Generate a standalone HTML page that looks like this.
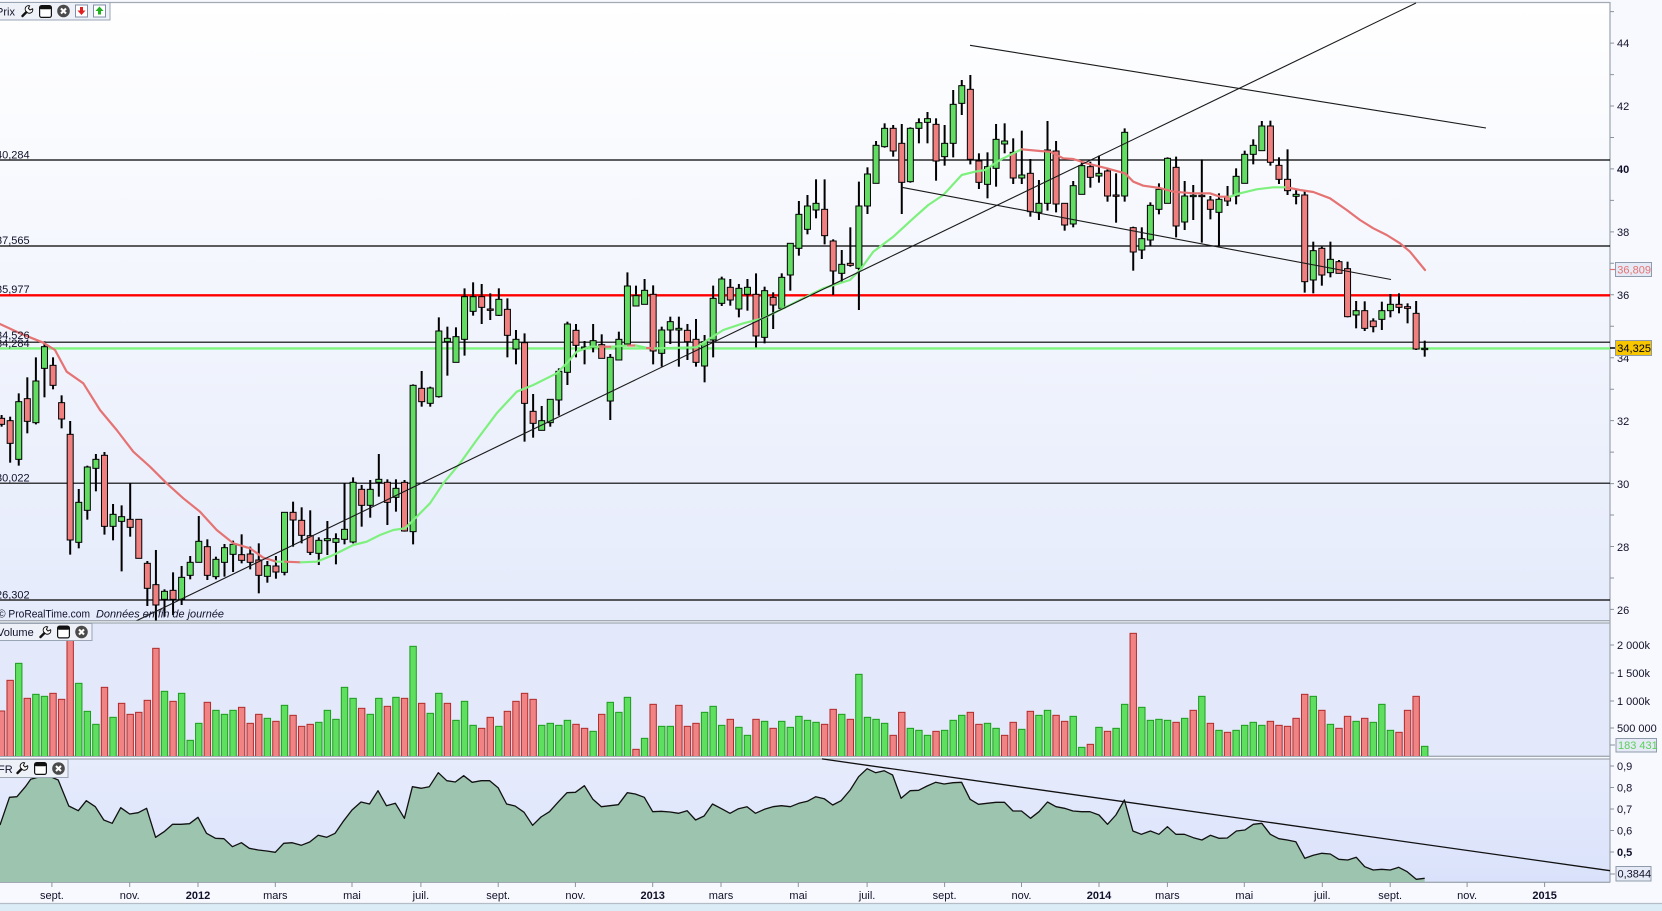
<!DOCTYPE html>
<html><head><meta charset="utf-8"><title>Chart</title>
<style>
html,body{margin:0;padding:0;background:#f8f9fe;width:1662px;height:911px;overflow:hidden}
svg{display:block}
text{font-family:"Liberation Sans",Arial,sans-serif;font-size:11px;fill:#10102a}
</style></head><body>
<svg xmlns="http://www.w3.org/2000/svg" width="1662" height="911" viewBox="0 0 1662 911">
<defs>
 <linearGradient id="gp" x1="0" y1="0" x2="0" y2="1"><stop offset="0" stop-color="#ffffff"/><stop offset="1" stop-color="#e5ebfb"/></linearGradient>
 <linearGradient id="gi" x1="0" y1="0" x2="0" y2="1"><stop offset="0" stop-color="#e7ecfc"/><stop offset="1" stop-color="#dae2fb"/></linearGradient>
 <clipPath id="cp"><rect x="0" y="2.5" width="1610" height="618"/></clipPath>
 <clipPath id="cv"><rect x="0" y="623" width="1610" height="133"/></clipPath>
 <clipPath id="ci"><rect x="0" y="759" width="1610" height="123"/></clipPath>
 <g id="wr"><path d="M1.5 11 L6.5 6" stroke="#111" stroke-width="2.4" stroke-linecap="round" fill="none"/><path d="M5.6 6.8 A3.4 3.4 0 0 1 8.6 0.8 L7.4 3.4 L9 5 L11.6 3.8 A3.4 3.4 0 0 1 5.6 6.8Z" fill="#fff" stroke="#111" stroke-width="1"/></g>
 <g id="wn"><rect x="0.6" y="0.6" width="11.8" height="11.8" rx="2" fill="#fff" stroke="#111" stroke-width="1.2"/><rect x="0.6" y="0.6" width="11.8" height="3.6" rx="1.5" fill="#111"/></g>
 <g id="cl"><circle cx="6.5" cy="6.5" r="6.3" fill="#4a4a4a"/><path d="M4 4L9 9M9 4L4 9" stroke="#fff" stroke-width="2.1"/></g>
 <g id="dr"><rect x="0.5" y="0.5" width="12" height="12" fill="#fff" stroke="#8090a8"/><path d="M5 2.5h3v3.5h2.5l-4 4.5-4-4.5H5z" fill="#e02020"/></g>
 <g id="dg"><rect x="0.5" y="0.5" width="12" height="12" fill="#fff" stroke="#8090a8"/><path d="M6.5 2l4 4.5H8V10H5V6.5H2.5z" fill="#20b020"/></g>
</defs>

<rect width="1662" height="911" fill="#f8f9fe"/>
<rect x="0" y="2.5" width="1610" height="618" fill="url(#gp)"/>
<rect x="0" y="623" width="1610" height="133" fill="#e3e9fb"/>
<rect x="0" y="759" width="1610" height="123" fill="url(#gi)"/>
<rect x="0" y="903" width="1662" height="8" fill="#dcecf7"/>
<line x1="0" y1="903.5" x2="1662" y2="903.5" stroke="#b4bcc6" stroke-width="1.3"/>

<!-- panel borders -->
<g stroke="#a2aab4" stroke-width="1.3" fill="none">
 <line x1="0" y1="2.5" x2="1610" y2="2.5"/>
 <line x1="0" y1="620.7" x2="1610" y2="620.7"/>
 <line x1="0" y1="623" x2="1610" y2="623"/>
 <line x1="0" y1="756.3" x2="1610" y2="756.3"/>
 <line x1="0" y1="759" x2="1610" y2="759"/>
 <line x1="0" y1="882.3" x2="1610" y2="882.3"/>
 <line x1="1610" y1="2" x2="1610" y2="882.5"/>
</g>

<!-- horizontal price lines -->
<g clip-path="url(#cp)">
 <line x1="0" x2="1610" y1="160" y2="160" stroke="#000" stroke-width="1.2"/>
 <line x1="0" x2="1610" y1="246" y2="246" stroke="#000" stroke-width="1.2"/>
 <line x1="0" x2="1610" y1="342.2" y2="342.2" stroke="#000" stroke-width="1.2"/>
 <line x1="0" x2="1610" y1="483.2" y2="483.2" stroke="#000" stroke-width="1.2"/>
 <line x1="0" x2="1610" y1="600" y2="600" stroke="#000" stroke-width="1.2"/>
 <line x1="0" x2="1610" y1="295.3" y2="295.3" stroke="#ff0000" stroke-width="2.4"/>
 <line x1="0" x2="1610" y1="348.4" y2="348.4" stroke="#7ef57e" stroke-width="2.4"/>
</g>

<g id="cand" clip-path="url(#cp)"></g>
<g id="ma" clip-path="url(#cp)"></g>
<g clip-path="url(#cp)" stroke="#1a1a1a" stroke-width="1.1" fill="none">
 <line x1="136" y1="621" x2="1416" y2="3"/>
 <line x1="970" y1="45.3" x2="1486" y2="128"/>
 <line x1="901.7" y1="187.3" x2="1391" y2="279.5"/>
</g>

<g id="vol" clip-path="url(#cv)"></g>
<g id="ind" clip-path="url(#ci)"></g>
<line x1="822" y1="758.9" x2="1610" y2="870.7" stroke="#111" stroke-width="1.3"/>

<!-- left level labels -->
<g fill="#1a1a1a">
 <text x="-4" y="158.5">40,284</text>
 <text x="-4" y="244">37,565</text>
 <text x="-4" y="293">35,977</text>
 <text x="-4" y="339">34,526</text>
 <text x="-4" y="347">34,284</text>
 <text x="-4" y="481.5">30,022</text>
 <text x="-4" y="598.5">26,302</text>
</g>
<text x="-2" y="617.5" font-size="12" textLength="92" lengthAdjust="spacingAndGlyphs">© ProRealTime.com</text>
<text x="96" y="617.5" font-size="12" font-style="italic" textLength="128" lengthAdjust="spacingAndGlyphs">Données en fin de journée</text>

<!-- header boxes -->
<rect x="-1" y="2.5" width="111" height="17.5" fill="#eef1f8" stroke="#9aa5b3"/>
<text x="-4" y="15.5" font-size="12">Prix</text>
<use href="#wr" x="21" y="5"/>
<use href="#wn" x="39" y="5"/>
<use href="#cl" x="57" y="4.5"/>
<use href="#dr" x="75" y="4.5"/>
<use href="#dg" x="93" y="4.5"/>

<rect x="-1" y="623.5" width="93" height="17" fill="#eef1f8" stroke="#9aa5b3"/>
<text x="-3" y="636" font-size="12">Volume</text>
<use href="#wr" x="39" y="626"/>
<use href="#wn" x="57" y="625.5"/>
<use href="#cl" x="75" y="625.5"/>

<rect x="-1" y="759.5" width="69" height="18" fill="#eef1f8" stroke="#9aa5b3"/>
<text x="-2" y="773" font-size="12">FR</text>
<use href="#wr" x="16" y="762"/>
<use href="#wn" x="34" y="762"/>
<use href="#cl" x="52" y="762"/>

<!-- right axis ticks -->
<path stroke="#8a939e" stroke-width="1" fill="none" d="M1610 11.6h4M1610 43.1h4M1610 74.6h4M1610 106h4M1610 137.5h4M1610 168.9h4M1610 200.4h4M1610 231.9h4M1610 263.3h4M1610 294.8h4M1610 326.3h4M1610 357.7h4M1610 389.2h4M1610 420.6h4M1610 452.1h4M1610 483.6h4M1610 515h4M1610 546.5h4M1610 578h4M1610 609.4h4M1610 645h4M1610 673h4M1610 701h4M1610 728h4M1610 745h5M1610 766h4M1610 787.5h4M1610 809h4M1610 830.5h4M1610 852h4M1610 874h5"/>
<line x1="1610" y1="269.5" x2="1616" y2="269.5" stroke="#e07070" stroke-width="1.2"/>
<line x1="1610" y1="348" x2="1616" y2="348" stroke="#000" stroke-width="1.5"/>

<text x="1617" y="47">44</text>
<text x="1617" y="110">42</text>
<text x="1617" y="173" font-weight="bold">40</text>
<text x="1617" y="236">38</text>
<text x="1617" y="299">36</text>
<text x="1617" y="362">34</text>
<text x="1617" y="425">32</text>
<text x="1617" y="488">30</text>
<text x="1617" y="551">28</text>
<text x="1617" y="614">26</text>

<rect x="1615.5" y="262.5" width="36" height="14" fill="#e6eaf6" stroke="#8e9bab"/>
<text x="1617.3" y="273.7" fill="#e57272" style="fill:#e57272">36,809</text>
<rect x="1615.5" y="340.5" width="36" height="15" fill="#f7c600" stroke="#8e9bab"/>
<text x="1617.3" y="352" style="fill:#000">34,325</text>

<text x="1617" y="649">2 000k</text>
<text x="1617" y="677">1 500k</text>
<text x="1617" y="705">1 000k</text>
<text x="1617" y="732">500 000</text>
<rect x="1616" y="738.5" width="40.5" height="13.5" fill="#e6eaf6" stroke="#8e9bab"/>
<text x="1618" y="749" style="fill:#5ccf5c">183 431</text>

<text x="1617" y="770">0,9</text>
<text x="1617" y="791.5">0,8</text>
<text x="1617" y="813">0,7</text>
<text x="1617" y="834.5">0,6</text>
<text x="1617" y="856" font-weight="bold" font-size="12">0,5</text>
<rect x="1616" y="866.5" width="35" height="14.5" fill="#e6eaf6" stroke="#8e9bab"/>
<text x="1617.5" y="877.5">0,3844</text>

<!-- date axis -->
<path stroke="#8a939e" stroke-width="1" fill="none" d="M51.9 882v5M129.7 882v5M198 882v5M275.3 882v5M352 882v5M420.9 882v5M498.2 882v5M575.4 882v5M652.7 882v5M721 882v5M798.3 882v5M867.1 882v5M944.6 882v5M1021.5 882v5M1099 882v5M1167.4 882v5M1244.3 882v5M1322.3 882v5M1390.2 882v5M1467.1 882v5M1544.6 882v5"/>
<g text-anchor="middle">
 <text x="51.9" y="899">sept.</text>
 <text x="129.7" y="899">nov.</text>
 <text x="198" y="899" font-weight="bold" font-size="12">2012</text>
 <text x="275.3" y="899">mars</text>
 <text x="352" y="899">mai</text>
 <text x="420.9" y="899">juil.</text>
 <text x="498.2" y="899">sept.</text>
 <text x="575.4" y="899">nov.</text>
 <text x="652.7" y="899" font-weight="bold" font-size="12">2013</text>
 <text x="721" y="899">mars</text>
 <text x="798.3" y="899">mai</text>
 <text x="867.1" y="899">juil.</text>
 <text x="944.6" y="899">sept.</text>
 <text x="1021.5" y="899">nov.</text>
 <text x="1099" y="899" font-weight="bold" font-size="12">2014</text>
 <text x="1167.4" y="899">mars</text>
 <text x="1244.3" y="899">mai</text>
 <text x="1322.3" y="899">juil.</text>
 <text x="1390.2" y="899">sept.</text>
 <text x="1467.1" y="899">nov.</text>
 <text x="1544.6" y="899" font-weight="bold" font-size="12">2015</text>
</g>
</svg>

<script>
(function(){
var NS="http://www.w3.org/2000/svg";
function el(tag,a,p){var e=document.createElementNS(NS,tag);for(var k in a)e.setAttribute(k,a[k]);p.appendChild(e);return e;}
var S=8.573,X0=1.6;
function bx(i){return X0+(i-1)*S;}
var GC="#62dc62",RC="#f08080";
var A=[[0,345,355,373,380],[0,350,362,430,488],[1,280,305,478,497],[0,232,296,364,400],[1,172,243,368,373],[1,124,140,205,292],[0,172,196,256,268],[0,286,308,357,385],[0,363,403,720,764],[1,567,607,727,745],[1,497,501,631,659],[1,462,478,505,574],[0,456,466,679,704],[1,612,643,679,721],[1,616,650,664,814],[0,550,658,682,710],[0,658,658,775,775],[0,783,790,865,918],[0,750,854,915,965],[1,868,874,898,950],[0,817,871,898,945],[1,798,832,898,915],[1,768,787,826,838],[1,648,724,787,787],[0,718,740,826,840],[1,770,778,830,838],[1,732,743,787,830],[1,722,733,763,816],[0,703,764,781,790],[0,740,762,787,808],[0,730,780,826,880],[1,783,797,829,848],[0,768,798,816,836],[1,637,637,817,826]];
var B=[[0,755,787,810,890],[0,772,811,856,880],[0,781,857,907,915],[1,862,871,910,945],[1,813,866,872,915],[1,850,866,877,943],[1,700,838,868,883],[1,682,697,876,880],[0,705,718,766,830],[1,690,718,766,803],[1,612,688,697,740],[0,688,697,757,825],[1,688,715,742,785],[0,690,697,843,845],[1,403,406,845,883],[0,363,415,455,470],[1,410,414,460,470],[1,202,243,440,443],[1,230,265,275,377],[1,232,260,337,337],[1,115,140,268,317],[1,97,140,184,197],[0,102,140,172,222],[0,130,177,181,210],[1,115,148,196,198],[0,145,178,256,322],[1,240,268,297,343],[0,250,278,460,575],[0,432,484,520,563],[1,468,512,541,541],[1,448,448,518,530],[1,355,364,450,497],[1,215,222,367,405],[0,222,241,286,322]];
var C=[[1,603,621,625,673],[1,552,602,622,637],[0,583,614,655,655],[1,642,652,783,840],[1,575,598,660,660],[1,397,438,612,612],[1,437,467,498,498],[1,417,451,493,493],[0,436,463,633,673],[1,560,570,640,680],[1,530,545,570,612],[1,530,565,570,680],[0,552,571,605,660],[0,537,598,667,680],[1,585,605,678,727],[1,437,475,600,652],[1,410,417,490,498],[0,417,442,480,497],[1,432,445,507,532],[1,417,442,463,512],[0,400,463,588,622],[1,440,452,592,610],[0,457,472,495,567],[1,400,412,505,505],[1,310,310,405,452],[1,183,223,325,347],[1,165,198,268,283],[1,118,190,210,235],[0,118,208,287,313],[0,298,303,393,465],[1,330,373,400,425],[0,262,370,376,380],[1,125,198,385,510],[1,82,102,198,222]];
var D=[[1,303,316,430,430],[1,250,265,320,323],[0,255,265,333,350],[0,252,310,427,522],[1,262,265,425,428],[1,235,248,265,310],[1,216,236,247,310],[0,235,253,363,422],[1,255,310,350,377],[1,150,193,310,352],[1,120,137,190,225],[0,105,148,358,373],[0,340,363,427,447],[1,337,380,433,475],[1,252,298,385,440],[1,250,303,312,340],[0,295,337,414,432],[1,272,405,414,432],[0,357,400,515,530],[1,420,490,517,540],[1,243,330,490,512],[0,303,333,492,517],[0,490,490,555,572],[1,423,437,552,562],[1,367,377,463,463],[0,365,380,412,443],[1,347,400,408,428],[0,383,393,468,485],[0,400,465,468,548],[1,265,277,468,485],[0,560,563,636,692],[1,562,596,630,657],[1,487,496,600,617]];
var E=[[1,250,268,328,343],[1,172,175,310,310],[0,170,202,378,412],[1,243,288,366,390],[1,255,286,289,360],[0,178,286,289,428],[0,288,300,328,358],[1,280,298,337,437],[0,258,291,303,318],[1,205,229,288,313],[1,152,163,250,250],[1,118,136,163,193],[1,63,78,152,152],[0,62,78,187,197],[0,172,196,238,252],[0,148,238,272,285],[1,270,283,289,313],[0,270,285,545,578],[1,425,452,540,580],[0,440,445,525,557],[1,425,478,518,532],[0,480,485,520,520],[0,485,506,650,652],[1,603,632,645,685],[0,604,632,685,693],[0,655,663,680,697],[1,605,632,658,690],[1,582,613,632,652],[0,580,613,622,640],[0,610,620,625,670],[0,603,640,747,750],[1,722,745,747,770]];
var chunks=[[300,1,A],[250,35,B],[140,69,C],[40,103,D],[100,136,E]];
var gc=document.getElementById("cand");
chunks.forEach(function(ch){var oy=ch[0],st=ch[1];ch[2].forEach(function(d,k){
 var i=st+k,x=bx(i);
 var h=oy+d[1]/3,t=oy+d[2]/3,b=oy+d[3]/3,l=oy+d[4]/3;
 el("line",{x1:x,x2:x,y1:h,y2:l,stroke:"#000","stroke-width":2},gc);
 var bh=Math.max(b-t,1.3);
 el("rect",{x:(x-3).toFixed(2),y:t.toFixed(2),width:6,height:bh.toFixed(2),fill:d[0]?GC:RC,stroke:"#000","stroke-width":1},gc);
});});

/* volume */
var vc="rrgrggrrrg"+"ggrgrrrrrg"+"rgggrgggrr"+"rgrgrrrggg"+"ggrggrgrgr"+"ggrgggrrgr"+"rrrggggrrg"+"rgggrgrggr"+"rrgggrggrg"+"rgggggr"+"rgrggggrrg"+"ggrgggrrgg"+"rrgrggrrgg"+"rgrggrgggg"+"rgrgrgrggg"+"grrrrrgrgr"+"rgrgggrrrg";
var vt=[333,241,190,295,283,289,280,298,115,250,334,373,262,352,310,343,337,301,145,274,304,280,421,370,307,331,343,331,322,370,343,355,364,316,346,379,373,367,331,358,262,295,325,343,295,319,292,295,139,310,340,280,310,361,304,376,385,352,379,334,304,280,298,376,370,376,361,373,385,394,343,307,337,292,448,415,313,379,379,316,379,370,337,319,376,358,382,406,358,364,385,364,382,349,361,367,373,
328,343,358,223,352,358,370,406,337,385,391,406,394,391,361,346,337,373,370,385,406,367,388,334,346,331,346,364,349,442,433,382,394,385,313,100,322,361,358,361,367,355,331,289,370,391,397,391,376,367,376,364,376,379,355,283,289,331,373,385,349,364,355,367,313,391,397,331,289,439];
var gv=document.getElementById("vol");
for(var i=1;i<=vt.length;i++){var x=bx(i),t=600+vt[i-1]/3,g=vc.charAt(i-1)=="g";
 el("rect",{x:(x-3.2).toFixed(2),y:t.toFixed(2),width:6.4,height:(756.5-t).toFixed(2),fill:g?"#5fdf5f":"#f08383",stroke:g?"#1d9a1d":"#b22a2a","stroke-width":1},gv);}

/* indicator */
var p4=[[0,675],[18,592],[32,590],[48,560],[58,538],[75,530],[95,530],[110,540],[130,618],[148,632],[163,602],[180,620],[196,660],[212,670],[228,623],[245,642],[261,638],[277,625],[294,712],[310,695],[326,673],[342,673],[358,671],[374,652],[390,700],[407,715],[423,716],[439,740],[456,728],[471,745],[488,750],[504,753],[520,757],[536,730],[552,728],[569,736],[585,726],[601,706],[617,712],[633,700],[648,665],[665,630],[682,606],[698,612],[714,572],[730,617],[747,610],[764,655],[779,560],[796,565],[811,560],[828,518],[844,542],[860,546],[876,527],[892,547],[909,542],[925,542],[941,563],[957,612],[973,618],[990,637],[1006,676],[1022,651],[1038,635],[1055,605],[1071,578],[1087,577],[1104,557],[1120,598],[1136,620],[1152,617],[1168,614],[1185,578],[1200,582],[1217,592],[1233,635],[1249,634],[1266,636],[1282,640],[1298,632],[1314,660],[1330,648],[1346,612],[1363,626],[1379,640],[1395,626],[1411,620],[1427,640],[1444,628],[1460,620],[1476,617],[1493,620],[1509,610],[1525,604],[1541,590],[1557,596]];
var p5=[[5,615],[21,602],[38,570],[54,530],[70,506],[86,518],[102,512],[118,525],[134,595],[151,572],[167,571],[183,558],[199,547],[215,552],[232,548],[248,547],[264,598],[280,613],[296,610],[313,607],[329,607],[345,633],[361,633],[378,655],[394,635],[410,606],[426,620],[442,625],[458,633],[474,635],[490,635],[507,645],[523,673],[539,645],[555,600],[571,693],[587,703],[604,693],[620,703],[636,680],[652,703],[668,703],[685,713],[701,720],[717,706],[733,715],[749,714],[766,693],[782,690],[798,673],[814,670],[830,703],[846,716],[862,720],[878,725],[895,775],[911,766],[927,760],[943,762],[959,778],[976,780],[992,772],[1008,800],[1024,810],[1040,808],[1056,810],[1072,802],[1088,815],[1105,838],[1121,835]];
var pts=[];
p4.forEach(function(p){pts.push([p[0]/1.889,600+p[1]/3]);});
p5.forEach(function(p){pts.push([830+p[0]/1.885,600+p[1]/3]);});
var s=pts.map(function(p){return p[0].toFixed(1)+","+p[1].toFixed(1);}).join(" ");
var gi=document.getElementById("ind");
el("polygon",{points:"0,883 "+s+" "+pts[pts.length-1][0].toFixed(1)+",883",fill:"#9cc4ae"},gi);
el("polyline",{points:s,fill:"none",stroke:"#111","stroke-width":1.3,"stroke-linejoin":"round"},gi);

/* moving average */
var segs=[
 ['r',[[0,324],[20,333.3],[43.3,342.7],[55,350],[66.7,371.7],[83.3,383.3],[100,410],[116.7,430],[133.3,451.7],[150,466.7],[166.7,483.3],[183.3,498.3],[200,511.7],[216.7,530],[233.3,543.3],[250,548.3],[263.3,557.7],[276.7,561.7]]],
 ['g',[[276.7,561.7],[285,561.7]]],
 ['r',[[285,561.7],[300.7,562.3]]],
 ['g',[[300.7,562.3],[316.7,561.7],[333.3,555],[353.3,545],[366.7,541.7],[380,535],[393.3,530],[405,528.3],[416.7,516.7],[430,503.3],[443.3,483.3],[460,463.3],[476.7,440],[496.7,413.3],[516.7,391.7],[533.3,385],[546.7,378.3],[556.7,373.3],[566.7,363.3],[576.7,351.7],[590,346.7],[600,346.7]]],
 ['r',[[600,346.7],[612,346.7]]],
 ['g',[[612,346.7],[628,345.5]]],
 ['r',[[628,345.5],[636,345.5]]],
 ['g',[[636,345.5],[647,348]]],
 ['r',[[647,348],[655,348.3]]],
 ['g',[[655,348.3],[696.7,347.3],[710,338.3],[723.3,330],[743.3,323.3],[763.3,318.3],[783.3,308.3],[803.3,298.3],[823.3,288.3],[850,280],[860,270],[873.3,251.7],[893.3,236.7],[913.3,218.3],[928.3,205],[943.3,195],[961.7,175],[975,171.7],[985,170],[1000,160],[1013.3,153.3],[1021.7,149.3]]],
 ['r',[[1021.7,149.3],[1040,151],[1050,151.7],[1063.3,158.3],[1073.3,159],[1086.7,163.3],[1106.7,168.3],[1125,173.3],[1133.3,181.7],[1143.3,185.7],[1160,188],[1173.3,191.7],[1193.3,193.3],[1210,193.3],[1220,196.7],[1230,196.7]]],
 ['g',[[1230,196.7],[1240,193.3],[1256.7,189.3],[1273.3,187.3],[1286.7,187.3]]],
 ['r',[[1286.7,187.3],[1300,190],[1313.3,192],[1330,198.3],[1346.7,210],[1360,220],[1373.3,228.3],[1386.7,235],[1400,243.3],[1410,251.7],[1425,270]]]
];
var gm=document.getElementById("ma");
segs.forEach(function(sg){
 el("polyline",{points:sg[1].map(function(p){return p[0]+","+p[1];}).join(" "),fill:"none",stroke:sg[0]=="g"?"#7ef07e":"#e57373","stroke-width":2.2,"stroke-linejoin":"round","stroke-linecap":"round"},gm);
});
})();
</script>
</body></html>
